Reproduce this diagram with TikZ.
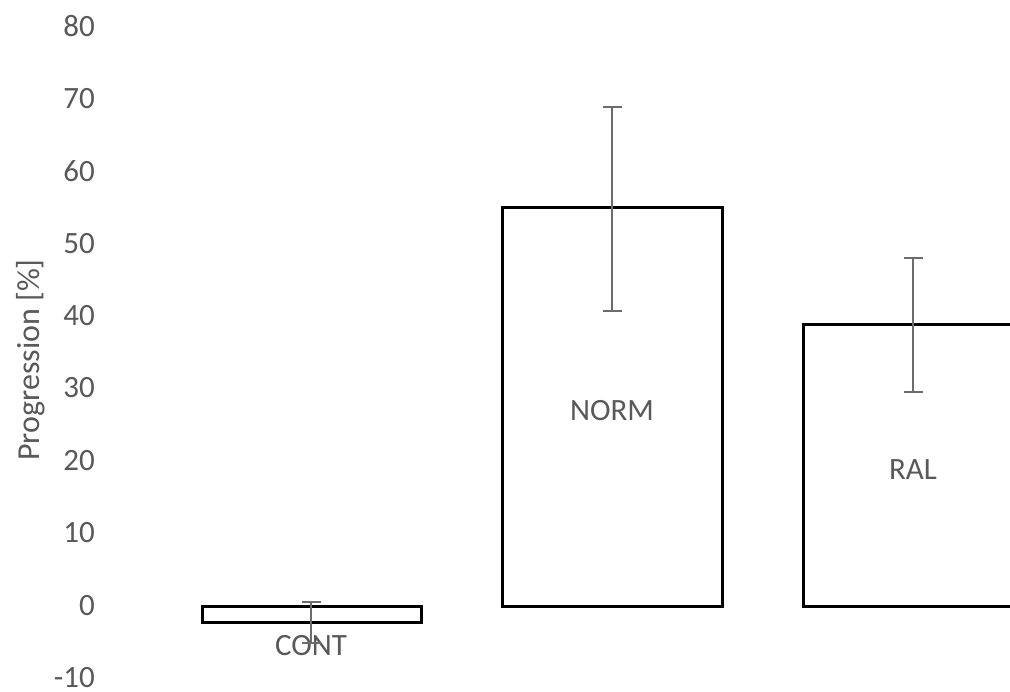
\documentclass[tikz,border=0pt]{standalone}
\usepackage{fontspec}
\setmainfont{Carlito}
\definecolor{txtgray}{RGB}{89,89,89}
\definecolor{errgray}{RGB}{108,108,108}
\tikzset{
  ticklbl/.style={anchor=east,text=txtgray,font=\fontsize{31}{31}\selectfont,inner sep=0pt},
  barlbl/.style={text=txtgray,font=\fontsize{31}{31}\selectfont,inner sep=0pt},
  titlelbl/.style={text=txtgray,font=\fontsize{32}{32}\selectfont,inner sep=0pt},
  barbox/.style={draw=black,line width=3pt,fill=white},
  errbar/.style={draw=errgray,line width=2.8pt},
}
\begin{document}
\begin{tikzpicture}[x=1pt,y=-1pt]
\useasboundingbox (0,0) rectangle (1010,692);
\clip (0,0) rectangle (1010,692);
\fill[white] (0,0) rectangle (1010,692);
% tick labels
\foreach \v [count=\i from 0] in {80,70,60,50,40,30,20,10,0,-10} {
  \node[ticklbl] (t\i) at (95,{26+72.4*\i}) {\v};
}
% axis title
\node[titlelbl,rotate=90] (title) at (31,360) {Progression [\%]};
% bars
\draw[barbox] (202,606) rectangle (421,622);
\draw[barbox] (502,606) rectangle (722,208);
\draw[barbox] (803,606) rectangle (1030,325);
% labels
\node[barlbl] (cont) at (311,646) {CONT};
\node[barlbl] (norm) at (612,411) {NORM};
\node[barlbl] (ral) at (913,470) {RAL};
% error bars
\coordinate (ea1) at (311,602); \coordinate (eb1) at (311,643);
\coordinate (ea2) at (612,107); \coordinate (eb2) at (612,311);
\coordinate (ea3) at (913,258); \coordinate (eb3) at (913,392);
\foreach \k in {1,2,3} {
  \draw[errbar] (ea\k) -- (eb\k);
  \draw[errbar] ([xshift=-9.5pt]ea\k) -- ([xshift=9.5pt]ea\k);
  \draw[errbar] ([xshift=-9.5pt]eb\k) -- ([xshift=9.5pt]eb\k);
}
\end{tikzpicture}
\end{document}
